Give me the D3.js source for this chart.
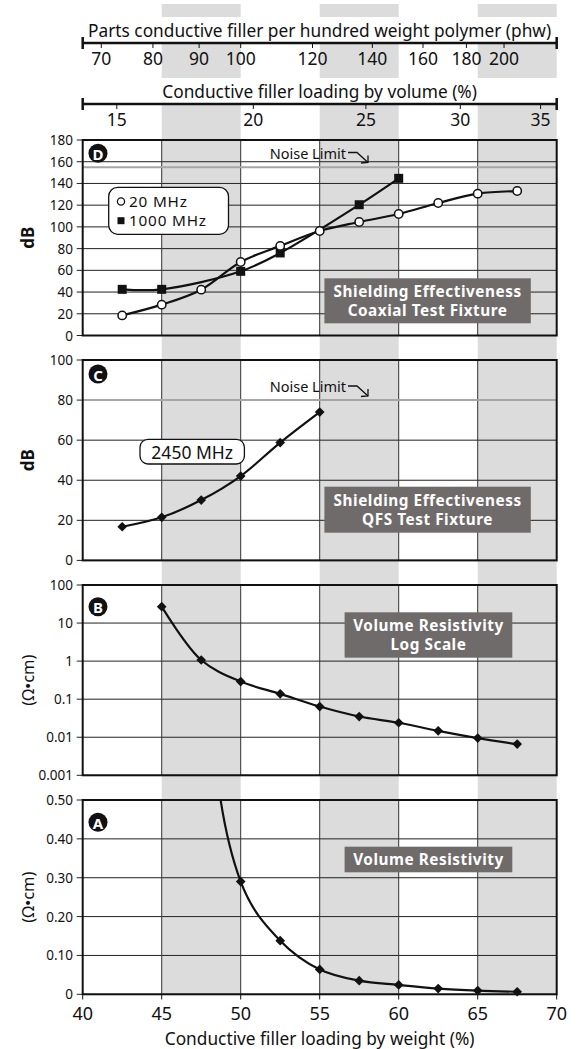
<html>
<script src="https://cdn.jsdelivr.net/npm/d3@7"></script>
<body style="margin:0">
<style>
    body { font-family: 'Noto Sans', sans-serif; }
    text { fill: #111; }
</style>
<svg width=578 height=1049></svg>
<script>

// tick values
var weightTicks = [40, 45, 50, 55, 60, 65, 70];
var phwTicks = [70, 80, 90, 100, 120, 140, 160, 180, 200];
var volumeTicks = [15, 20, 25, 30, 35];
var bandStarts = [45, 55, 65];

// D - shielding effectiveness, coaxial fixture
var load20 = [42.5, 45, 47.5, 50, 52.5, 55, 57.5, 60, 62.5, 65, 67.5];
var db20 = [18.5, 28.4, 42.2, 67.7, 82.5, 96.2, 104.5, 111.9, 122, 130.6, 133];
var load1000 = [42.5, 45, 50, 52.5, 57.5, 60];
var db1000 = [42.5, 42.5, 59.1, 76, 120.4, 144.7];
var dbTicksD = [0, 20, 40, 60, 80, 100, 120, 140, 160, 180];
var noiseD = 155;
var legendD = ["20 MHz", "1000 MHz"];

// C - shielding effectiveness, QFS fixture
var load2450 = [42.5, 45, 47.5, 50, 52.5, 55];
var db2450 = [16.8, 21.5, 30.1, 42.1, 58.8, 74];
var dbTicksC = [0, 20, 40, 60, 80, 100];
var noiseC = 80;

// B and A - volume resistivity (ohm cm)
var loadRes = [45, 47.5, 50, 52.5, 55, 57.5, 60, 62.5, 65, 67.5];
var resistivity = [27, 1.07, 0.29, 0.138, 0.064, 0.035, 0.024, 0.0147, 0.0095, 0.0066];
var logTicks = [0.001, 0.01, 0.1, 1, 10, 100];
var linTicks = [0, 0.1, 0.2, 0.3, 0.4, 0.5];

var densityRatio = 4.13;   // filler / polymer
function phwToWeight(p) { return 100 * p / (100 + p); }
function volToWeight(v) { return 100 * v * densityRatio / (v * densityRatio + 100 - v); }

var svg = d3.select("svg");
var x = d3.scaleLinear().domain([40, 70]).range([82.7, 556.7]);

// gray bands
bandStarts.forEach(function(b) {
    svg.append("rect")
        .attr("x", x(b)).attr("width", x(b + 5) - x(b))
        .attr("y", 4).attr("height", 995 - 4)
        .style("fill", "#dcdcdc");
});
// white behind the top titles
svg.append("rect").attr("x", 80).attr("width", 480).attr("y", 17).attr("height", 26).style("fill", "#fff");
svg.append("rect").attr("x", 80).attr("width", 480).attr("y", 78).attr("height", 26).style("fill", "#fff");

// top axes
function topAxis(lineY, ticks, toWeight, title) {
    svg.append("text").attr("x", 319.6).attr("y", lineY - 13).attr("text-anchor", "middle")
        .attr("dominant-baseline", "central").style("font-size", "17.3px").text(title);
    svg.append("line").attr("x1", x(40)).attr("x2", x(70)).attr("y1", lineY).attr("y2", lineY)
        .style("stroke", "#111").style("stroke-width", 2.5);
    [40, 70].forEach(function(e) {
        svg.append("line").attr("x1", x(e)).attr("x2", x(e)).attr("y1", lineY - 6).attr("y2", lineY + 6)
            .style("stroke", "#111").style("stroke-width", 2.5);
    });
    ticks.forEach(function(t) {
        var px = x(toWeight(t));
        svg.append("line").attr("x1", px).attr("x2", px).attr("y1", lineY).attr("y2", lineY + 5)
            .style("stroke", "#111").style("stroke-width", 1);
        svg.append("text").attr("x", px).attr("y", lineY + 15).attr("text-anchor", "middle")
            .attr("dominant-baseline", "central").style("font-size", "17.5px").text(t);
    });
}
topAxis(43, phwTicks, phwToWeight, "Parts conductive filler per hundred weight polymer (phw)");
topAxis(104, volumeTicks, volToWeight, "Conductive filler loading by volume (%)");

function panel(y, ticks, fmt, ylabel) {
    var g = svg.append("g");
    var top = y.range()[1], bottom = y.range()[0];
    // horizontal grid
    ticks.forEach(function(t) {
        g.append("line").attr("x1", x(40)).attr("x2", x(70)).attr("y1", y(t)).attr("y2", y(t))
            .style("stroke", "#222").style("stroke-width", 1);
        g.append("line").attr("x1", x(40) - 6).attr("x2", x(40)).attr("y1", y(t)).attr("y2", y(t))
            .style("stroke", "#222").style("stroke-width", 1);
        g.append("text").attr("x", 73).attr("y", y(t)).attr("text-anchor", "end")
            .attr("dominant-baseline", "central").style("font-size", "13.5px").text(fmt(t));
    });
    // vertical grid
    weightTicks.slice(1, -1).forEach(function(w) {
        g.append("line").attr("x1", x(w)).attr("x2", x(w)).attr("y1", top).attr("y2", bottom)
            .style("stroke", "#333").style("stroke-width", 1);
    });
    g.append("text")
        .attr("transform", "translate(27," + ((top + bottom) / 2) + ") rotate(-90)")
        .attr("text-anchor", "middle").attr("dominant-baseline", "central")
        .style("font-size", ylabel == "dB" ? "17px" : "16.5px")
        .style("font-weight", ylabel == "dB" ? "bold" : "normal")
        .text(ylabel);
    return g;
}

function frame(y) {
    var top = y.range()[1], bottom = y.range()[0];
    svg.append("rect").attr("x", x(40)).attr("y", top).attr("width", x(70) - x(40)).attr("height", bottom - top)
        .style("fill", "none").style("stroke", "#111").style("stroke-width", 2);
}

function letterBadge(y, letter) {
    svg.append("circle").attr("cx", 98).attr("cy", y).attr("r", 9.5).style("fill", "#111");
    svg.append("text").attr("x", 98).attr("y", y + 0.5).attr("text-anchor", "middle")
        .attr("dominant-baseline", "central").style("font-size", "15px").style("font-weight", "bold")
        .style("fill", "#fff").text(letter);
}

function grayBox(x0, x1, y0, y1, lines) {
    svg.append("rect").attr("x", x0).attr("y", y0).attr("width", x1 - x0).attr("height", y1 - y0)
        .style("fill", "#6f6b6b");
    var lh = 18.8, cy = (y0 + y1) / 2 - (lines.length - 1) * lh / 2;
    var t = svg.append("text").attr("text-anchor", "middle")
        .style("font-size", "15.3px").style("font-weight", "bold").style("letter-spacing", "0.55px");
    lines.forEach(function(s, i) {
        t.append("tspan").attr("x", (x0 + x1) / 2).attr("y", cy + i * lh + 5.5)
            .style("fill", "#fff").text(s);
    });
}

function noiseLimit(yLine, yText) {
    svg.append("text").attr("x", 346).attr("y", yText).attr("text-anchor", "end")
        .attr("dominant-baseline", "central").style("font-size", "14.5px").text("Noise Limit");
    svg.append("path").attr("d", "M348," + yText + " L357," + yText + " L368," + (yText + 10))
        .style("fill", "none").style("stroke", "#111").style("stroke-width", 1.3);
    svg.append("path").attr("d", "M361," + (yText + 10.5) + " L368," + (yText + 10) + " L368," + (yText + 3))
        .style("fill", "none").style("stroke", "#111").style("stroke-width", 1.3);
}

function curve(y, xs, ys, curveType, clip) {
    var pts = xs.map(function(d, i) { return [d, ys[i]]; });
    var line = d3.line().x(function(d) { return x(d[0]); }).y(function(d) { return y(d[1]); }).curve(curveType);
    var p = svg.append("path").datum(pts).attr("d", line)
        .style("fill", "none").style("stroke", "#111").style("stroke-width", 2.2);
    if (clip) p.attr("clip-path", "url(#" + clip + ")");
    return pts;
}

function diamonds(y, pts) {
    svg.selectAll(null).data(pts).enter().append("path")
        .attr("d", d3.symbol().type(d3.symbolDiamond2).size(60))
        .attr("transform", function(d) { return "translate(" + x(d[0]) + "," + y(d[1]) + ")"; })
        .style("fill", "#111");
}

// ---------- D ----------
var yD = d3.scaleLinear().domain([0, 180]).range([335.5, 140]);
panel(yD, dbTicksD, d3.format("d"), "dB");
svg.append("line").attr("x1", x(40)).attr("x2", x(70)).attr("y1", yD(noiseD)).attr("y2", yD(noiseD))
    .style("stroke", "#a6a6a6").style("stroke-width", 2);
var p20 = curve(yD, load20, db20, d3.curveCatmullRom);
var p1000 = curve(yD, load1000, db1000, d3.curveCatmullRom);
svg.selectAll(null).data(p1000).enter().append("rect")
    .attr("x", function(d) { return x(d[0]) - 4.5; }).attr("y", function(d) { return yD(d[1]) - 4.5; })
    .attr("width", 9).attr("height", 9).style("fill", "#111");
svg.selectAll(null).data(p20).enter().append("circle")
    .attr("cx", function(d) { return x(d[0]); }).attr("cy", function(d) { return yD(d[1]); })
    .attr("r", 4.2).style("fill", "#fff").style("stroke", "#111").style("stroke-width", 1.5);
noiseLimit(yD(noiseD), 152.5);
grayBox(324.4, 530.8, 278.3, 323.3, ["Shielding Effectiveness", "Coaxial Test Fixture"]);
// legend
svg.append("rect").attr("x", 108.7).attr("y", 187.3).attr("width", 119.8).attr("height", 47).attr("rx", 9)
    .style("fill", "#fff").style("stroke", "#111").style("stroke-width", 1.3);
svg.append("circle").attr("cx", 121).attr("cy", 201.5).attr("r", 3.6)
    .style("fill", "#fff").style("stroke", "#111").style("stroke-width", 1.3);
svg.append("rect").attr("x", 117.5).attr("y", 217.2).attr("width", 7).attr("height", 7).style("fill", "#111");
var legText = svg.append("text").style("font-size", "15.3px").style("letter-spacing", "0.8px");
legendD.forEach(function(s, i) {
    legText.append("tspan").attr("x", 129).attr("y", 207 + i * 19.4).text(s);
});
frame(yD);
letterBadge(153.3, "D");

// ---------- C ----------
var yC = d3.scaleLinear().domain([0, 100]).range([560.4, 360]);
panel(yC, dbTicksC, d3.format("d"), "dB");
svg.append("line").attr("x1", x(40)).attr("x2", x(70)).attr("y1", yC(noiseC)).attr("y2", yC(noiseC))
    .style("stroke", "#a6a6a6").style("stroke-width", 2);
diamonds(yC, curve(yC, load2450, db2450, d3.curveCatmullRom));
noiseLimit(yC(noiseC), 386);
grayBox(324.4, 530.8, 486.7, 532.7, ["Shielding Effectiveness", "QFS Test Fixture"]);
svg.append("rect").attr("x", 140).attr("y", 439.3).attr("width", 104.4).attr("height", 24.7).attr("rx", 8)
    .style("fill", "#fff").style("stroke", "#111").style("stroke-width", 1.3);
svg.append("text").attr("x", 192.2).attr("y", 451.8).attr("text-anchor", "middle").attr("dominant-baseline", "central")
    .style("font-size", "17.5px").text("2450 MHz");
frame(yC);
letterBadge(374, "C");

// ---------- B ----------
var yB = d3.scaleLog().domain([0.001, 100]).range([775.3, 585]);
panel(yB, logTicks, function(d) { return String(d); }, "(\u03A9\u2022cm)");
diamonds(yB, curve(yB, loadRes, resistivity, d3.curveCatmullRom));
grayBox(344.6, 512.3, 612.3, 657.7, ["Volume Resistivity", "Log Scale"]);
frame(yB);
letterBadge(606.7, "B");

// ---------- A ----------
var yA = d3.scaleLinear().domain([0, 0.5]).range([994.3, 800]);
panel(yA, linTicks, function(d) { return d == 0 ? "0" : d3.format(".2f")(d); }, "(\u03A9\u2022cm)");
svg.append("clipPath").attr("id", "clipA").append("rect")
    .attr("x", x(40)).attr("y", 800).attr("width", x(70) - x(40)).attr("height", 194.3);
var pA = curve(yA, loadRes, resistivity, d3.curveCatmullRom, "clipA");
diamonds(yA, pA.filter(function(d) { return d[1] <= 0.5; }));
grayBox(344.6, 512.3, 846.7, 872.3, ["Volume Resistivity"]);
frame(yA);
letterBadge(822.3, "A");

// bottom axis
weightTicks.forEach(function(w) {
    svg.append("line").attr("x1", x(w)).attr("x2", x(w)).attr("y1", 994.3).attr("y2", 999.5)
        .style("stroke", "#111").style("stroke-width", 1);
    svg.append("text").attr("x", x(w)).attr("y", 1013).attr("text-anchor", "middle")
        .attr("dominant-baseline", "central").style("font-size", "18px").text(w);
});
svg.append("text").attr("x", 319.6).attr("y", 1038).attr("text-anchor", "middle")
    .attr("dominant-baseline", "central").style("font-size", "17.3px")
    .text("Conductive filler loading by weight (%)");

</script>
</body>
</html>
